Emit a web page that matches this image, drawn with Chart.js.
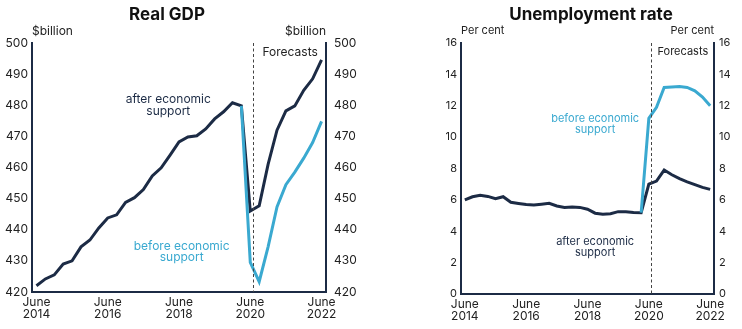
<!DOCTYPE html>
<html>
<head>
<meta charset="utf-8">
<script src="https://cdn.jsdelivr.net/npm/chart.js@4"></script>
<style>
  html, body { margin: 0; padding: 0; background: #fff; }
  #wrap { position: relative; width: 742px; height: 329px; }
  .panel { position: absolute; top: 0; width: 371px; height: 329px; }
</style>
</head>
<body>
<div id="wrap">
  <div class="panel" style="left:0"><canvas id="gdpCanvas" width="371" height="329"></canvas></div>
  <div class="panel" style="left:371px"><canvas id="unempCanvas" width="371" height="329"></canvas></div>
</div>
<script>
// ---- data (quarterly, June 2014 to June 2022) ----
var quarters = ['Jun-14','Sep-14','Dec-14','Mar-15','Jun-15','Sep-15','Dec-15','Mar-16','Jun-16','Sep-16','Dec-16','Mar-17',
  'Jun-17','Sep-17','Dec-17','Mar-18','Jun-18','Sep-18','Dec-18','Mar-19','Jun-19','Sep-19','Dec-19','Mar-20',
  'Jun-20','Sep-20','Dec-20','Mar-21','Jun-21','Sep-21','Dec-21','Mar-22','Jun-22'];
var tickYears = { 0: '2014', 8: '2016', 16: '2018', 24: '2020', 32: '2022' };

var gdpAfter = [422, 424.2, 425.5, 429, 430, 434.5, 436.7, 440.6, 443.8, 444.8, 448.8, 450.3,
  452.9, 457.3, 459.9, 464, 468.2, 469.8, 470.2, 472.4, 475.6, 477.9, 480.8, 479.8,
  446, 447.7, 461, 472, 478.2, 479.8, 484.8, 488.5, 494.6];
var gdpBefore = [null, null, null, null, null, null, null, null, null, null, null, null,
  null, null, null, null, null, null, null, null, null, null, null, 479.8,
  429.5, 423.3, 434.5, 447.3, 454.5, 458.5, 463, 468, 474.8];

var unempAfter = [6.0, 6.2, 6.3, 6.22, 6.07, 6.2, 5.85, 5.77, 5.7, 5.67, 5.72, 5.78,
  5.61, 5.52, 5.55, 5.52, 5.4, 5.15, 5.08, 5.12, 5.25, 5.25, 5.2, 5.18,
  7.0, 7.2, 7.9, 7.6, 7.35, 7.15, 6.97, 6.8, 6.67];
var unempBefore = [null, null, null, null, null, null, null, null, null, null, null, null,
  null, null, null, null, null, null, null, null, null, null, null, 5.18,
  11.2, 11.9, 13.17, 13.2, 13.22, 13.17, 12.95, 12.55, 12.0];

var NAVY = '#1c2b45';
var BLUE = '#3aa9d0';
var TEXT = '#222222';
var FONT = 'Inter, "Open Sans", sans-serif';

// draws title, unit labels, forecast divider and series notes
var decorPlugin = {
  id: 'decor',
  afterDraw: function (chart) {
    var o = chart.options.plugins.decor;
    var ctx = chart.ctx, area = chart.chartArea;
    var xs = chart.scales.x, ys = chart.scales.y;
    ctx.save();

    ctx.fillStyle = '#111';
    ctx.font = 'bold 17px ' + FONT;
    ctx.textAlign = 'center';
    ctx.textBaseline = 'middle';
    ctx.fillText(o.title, o.titleX, 15);

    ctx.font = o.size + 'px ' + FONT;
    ctx.fillStyle = TEXT;
    ctx.textAlign = 'left';
    ctx.fillText(o.unit, area.left, 31);
    ctx.textAlign = 'right';
    ctx.fillText(o.unit, area.right, 31);

    // forecast divider
    var step = xs.getPixelForValue(1) - xs.getPixelForValue(0);
    var fx = Math.round(xs.getPixelForValue(24) + step * 0.3) + 0.5;
    ctx.strokeStyle = '#444';
    ctx.lineWidth = 1;
    ctx.setLineDash([3, 2.5]);
    ctx.beginPath();
    ctx.moveTo(fx, area.top);
    ctx.lineTo(fx, area.bottom);
    ctx.stroke();
    ctx.setLineDash([]);
    ctx.textAlign = 'left';
    ctx.fillText('Forecasts', fx + o.fcGap, 52);

    o.notes.forEach(function (n) {
      ctx.fillStyle = n.color;
      ctx.textAlign = 'center';
      var px = xs.getPixelForValue(n.x), py = ys.getPixelForValue(n.y);
      n.lines.forEach(function (t, i) { ctx.fillText(t, px, py + i * 11.5); });
    });
    ctx.restore();
  }
};

function makeChart(id, cfg) {
  var tickFont = { family: FONT, size: cfg.decor.size, lineHeight: 0.95 };
  return new Chart(document.getElementById(id), {
    type: 'line',
    data: {
      labels: quarters,
      datasets: [
        { label: 'before economic support', data: cfg.before, borderColor: BLUE, borderWidth: 3, pointRadius: 0, tension: 0, spanGaps: false },
        { label: 'after economic support', data: cfg.after, borderColor: NAVY, borderWidth: 3, pointRadius: 0, tension: 0 }
      ]
    },
    options: {
      responsive: false,
      animation: false,
      events: [],
      layout: { padding: { top: 43, left: 0, right: 0, bottom: 0 } },
      plugins: {
        legend: { display: false },
        tooltip: { enabled: false },
        decor: cfg.decor
      },
      scales: {
        x: {
          type: 'category',
          offset: true,
          grid: { display: false, drawTicks: false },
          border: { display: true, color: NAVY, width: 2 },
          afterFit: function (s) { s.height = cfg.xHeight; },
          ticks: {
            autoSkip: false, maxRotation: 0, padding: 5, color: TEXT, font: { family: FONT, size: 12, lineHeight: 0.95 },
            callback: function (v, i) { return tickYears[i] ? ['June', tickYears[i]] : null; }
          }
        },
        y: {
          position: 'left', min: cfg.min, max: cfg.max,
          grid: { display: false, drawTicks: false },
          border: { display: true, color: NAVY, width: 2 },
          afterFit: function (s) { s.width = cfg.leftW; },
          ticks: { stepSize: cfg.step, padding: cfg.padL, color: TEXT, font: tickFont }
        },
        y2: {
          position: 'right', min: cfg.min, max: cfg.max,
          grid: { display: false, drawTicks: false },
          border: { display: true, color: NAVY, width: 2 },
          afterFit: function (s) { s.width = cfg.rightW; },
          ticks: { stepSize: cfg.step, padding: cfg.padR, color: TEXT, font: tickFont }
        }
      }
    },
    plugins: [decorPlugin]
  });
}

makeChart('gdpCanvas', {
  before: gdpBefore, after: gdpAfter, min: 420, max: 500, step: 10,
  leftW: 32, rightW: 45, padL: 4, padR: 8, xHeight: 37,
  decor: {
    title: 'Real GDP', titleX: 167, unit: '$billion', fcGap: 9, size: 12,
    notes: [
      { lines: ['after economic', 'support'], x: 14.8, y: 481.8, color: NAVY },
      { lines: ['before economic', 'support'], x: 16.3, y: 434.8, color: BLUE }
    ]
  }
});

makeChart('unempCanvas', {
  before: unempBefore, after: unempAfter, min: 0, max: 16, step: 2,
  leftW: 90, rightW: 28, padL: 4, padR: 5, xHeight: 35,
  decor: {
    title: 'Unemployment rate', titleX: 220, unit: 'Per cent', fcGap: 6, size: 11,
    notes: [
      { lines: ['before economic', 'support'], x: 17.0, y: 11.2, color: BLUE },
      { lines: ['after economic', 'support'], x: 17.0, y: 3.35, color: NAVY }
    ]
  }
});
</script>
</body>
</html>
